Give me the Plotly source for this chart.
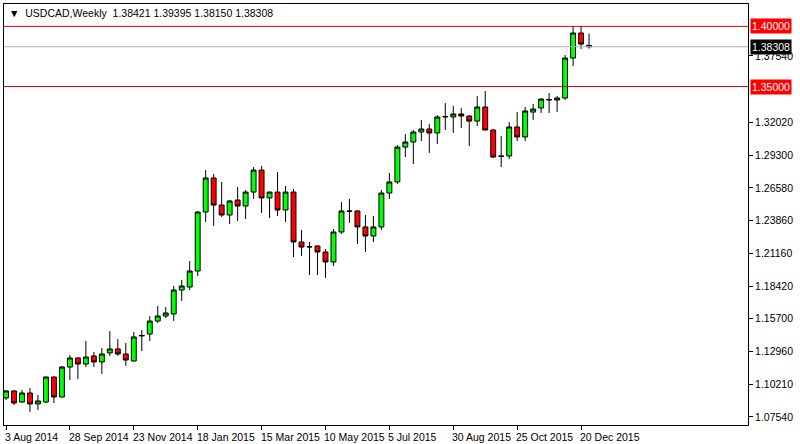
import plotly.graph_objects as go

opens = [1.0912,1.0970,1.0878,1.0953,1.0862,1.0878,1.1086,1.0920,1.1169,1.1244,1.1194,1.1261,1.1211,1.1286,1.1319,1.1277,1.1219,1.1427,1.1443,1.1551,1.1593,1.1610,1.1809,1.1834,1.1967,1.2457,1.2740,1.2515,1.2432,1.2557,1.2507,1.2623,1.2806,1.2574,1.2623,1.2474,1.2623,1.2208,1.2166,1.2175,1.2125,1.2042,1.2291,1.2466,1.2466,1.2333,1.2258,1.2333,1.2615,1.2707,1.2997,1.3039,1.3122,1.3147,1.3114,1.3247,1.3247,1.3272,1.3255,1.3213,1.3330,1.3139,1.2923,1.2923,1.3164,1.3081,1.3288,1.3322,1.3388,1.3388,1.3405,1.3737,1.3945,1.38421]
highs = [1.0978,1.0975,1.0978,1.0995,1.0937,1.1090,1.1090,1.1178,1.1269,1.1250,1.1385,1.1294,1.1327,1.1468,1.1402,1.1369,1.1460,1.1477,1.1593,1.1676,1.1668,1.1842,1.1892,1.2050,1.2466,1.2806,1.2773,1.2707,1.2557,1.2665,1.2640,1.2831,1.2840,1.2626,1.2790,1.2673,1.2648,1.2308,1.2208,1.2180,1.2150,1.2316,1.2540,1.2565,1.2470,1.2432,1.2424,1.2640,1.2781,1.3014,1.3105,1.3139,1.3222,1.3189,1.3263,1.3363,1.3338,1.3322,1.3260,1.3421,1.3463,1.3145,1.3089,1.3205,1.3288,1.3330,1.3355,1.3405,1.3446,1.3421,1.3762,1.4003,1.4003,1.39395]
lows = [1.0895,1.0853,1.0870,1.0795,1.0812,1.0870,1.0870,1.0915,1.1061,1.1070,1.1169,1.1169,1.1111,1.1261,1.1261,1.1178,1.1215,1.1302,1.1385,1.1535,1.1576,1.1551,1.1718,1.1809,1.1925,1.2374,1.2341,1.2416,1.2358,1.2382,1.2399,1.2565,1.2449,1.2407,1.2424,1.2374,1.2083,1.2092,1.1934,1.1934,1.1909,1.2009,1.2274,1.2366,1.2191,1.2125,1.2208,1.2308,1.2565,1.2690,1.2914,1.2856,1.3047,1.2948,1.3022,1.3139,1.3114,1.3155,1.3006,1.3172,1.3135,1.2906,1.2831,1.2898,1.3047,1.3047,1.3222,1.3280,1.3280,1.3288,1.3388,1.3671,1.3812,1.38150]
closes = [1.0970,1.0870,1.0953,1.0862,1.0887,1.1086,1.0920,1.1169,1.1244,1.1194,1.1252,1.1211,1.1277,1.1319,1.1277,1.1227,1.1419,1.1431,1.1551,1.1593,1.1618,1.1809,1.1842,1.1967,1.2457,1.2740,1.2515,1.2432,1.2549,1.2507,1.2623,1.2806,1.2574,1.2623,1.2474,1.2623,1.2208,1.2166,1.2169,1.2125,1.2042,1.2291,1.2466,1.2463,1.2333,1.2258,1.2333,1.2615,1.2707,1.2997,1.3039,1.3122,1.3147,1.3114,1.3247,1.3250,1.3272,1.3255,1.3213,1.3330,1.3139,1.2914,1.2920,1.3164,1.3081,1.3297,1.3313,1.3396,1.3392,1.3405,1.3737,1.3945,1.3853,1.38308]
weeks = list(range(len(opens)))
date_ticks = [0, 8, 16, 24, 32, 40, 48, 56, 64, 72]
date_labels = ["3 Aug 2014","28 Sep 2014","23 Nov 2014","18 Jan 2015","15 Mar 2015",
               "10 May 2015","5 Jul 2015","30 Aug 2015","25 Oct 2015","20 Dec 2015"]
price_ticks = [1.07540,1.10210,1.12960,1.15700,1.18420,1.21160,1.23860,1.26580,1.29300,1.32020,1.37540]
level_lines = [1.40000, 1.35000]
last_price = 1.38308

FONT = "Liberation Sans"
fig = go.Figure()
fig.add_trace(go.Candlestick(
    x=weeks, open=opens, high=highs, low=lows, close=closes,
    increasing=dict(fillcolor="#00ff00", line=dict(color="black", width=1)),
    decreasing=dict(fillcolor="#ff0000", line=dict(color="black", width=1)),
    whiskerwidth=0, showlegend=False, hoverinfo="skip"))

for lv in level_lines:
    fig.add_shape(type="line", xref="paper", x0=0, x1=1, y0=lv, y1=lv,
                  line=dict(color="#e00000", width=1))
    fig.add_annotation(xref="paper", x=1.003, y=lv, xanchor="left", yanchor="middle",
                       text=f"{lv:.5f}", showarrow=False, bgcolor="#ff0000",
                       font=dict(color="white", size=10.5, family=FONT), borderpad=1)
fig.add_shape(type="line", xref="paper", x0=0, x1=1, y0=last_price, y1=last_price,
              line=dict(color="#b0b0b0", width=1))
fig.add_annotation(xref="paper", x=1.003, y=last_price, xanchor="left", yanchor="middle",
                   text=f"{last_price:.5f}", showarrow=False, bgcolor="black",
                   font=dict(color="white", size=10.5, family=FONT), borderpad=1)

for t, lab in zip(date_ticks, date_labels):
    fig.add_annotation(x=t, xref="x", yref="paper", y=-0.01, xanchor="left", yanchor="top",
                       text=lab, showarrow=False, xshift=-3,
                       font=dict(color="black", size=10.5, family=FONT))

fig.add_annotation(xref="paper", yref="paper", x=0.004, y=0.997, xanchor="left", yanchor="top",
                   text="▼  USDCAD,Weekly  1.38421 1.39395 1.38150 1.38308", showarrow=False,
                   font=dict(color="black", size=10.5, family=FONT))

fig.update_layout(
    width=800, height=444, paper_bgcolor="white", plot_bgcolor="white",
    margin=dict(l=4, r=52, t=4, b=19), boxgap=0.12,
    xaxis=dict(range=[-0.25, 92.9], showgrid=False, zeroline=False, tickvals=date_ticks,
               showticklabels=False, ticks="outside", ticklen=4, tickcolor="black",
               showline=True, linecolor="black", mirror=True, rangeslider=dict(visible=False)),
    yaxis=dict(range=[1.0687, 1.4186], side="right", showgrid=False, zeroline=False,
               tickvals=price_ticks, ticktext=[f"{v:.5f}" for v in price_ticks],
               ticks="outside", ticklen=4, tickcolor="black",
               tickfont=dict(size=10.5, family=FONT, color="black"),
               showline=True, linecolor="black", mirror=True),
)
fig.write_html("out.html", config={"displayModeBar": False},
               post_script="document.body.style.margin='0';")
